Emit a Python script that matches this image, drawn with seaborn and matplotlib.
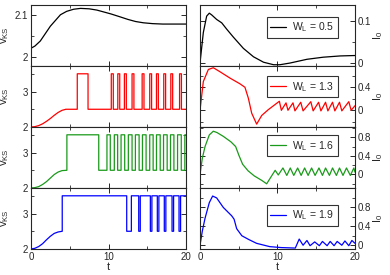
import numpy as np
import pandas as pd
import matplotlib
matplotlib.use("Agg")
import matplotlib.pyplot as plt
import seaborn as sns
from matplotlib.ticker import MultipleLocator, FixedLocator

# ── Data ──────────────────────────────────────────────────────────────────────
W_LABELS = ["0.5", "1.3", "1.6", "1.9"]
COLORS   = ["black", "#ff0000", "#1a9a1a", "#0000ff"]

# v_KS, W_L = 0.5 (smooth)
vks05_t = [0, 0.5, 1.2, 2.5, 3.8, 4.6, 5.5, 6.4, 7.5, 8.5, 9.5, 10.3, 11.5, 12.5, 13.5, 14.5, 15.7, 17, 18.5, 20]
vks05_v = [2.021, 2.026, 2.038, 2.073, 2.100, 2.108, 2.113, 2.115, 2.114, 2.111, 2.106, 2.102, 2.095, 2.089, 2.084, 2.081, 2.079, 2.078, 2.078, 2.078]

# smooth rise before the first switch (W_L = 1.3, 1.6, 1.9)
rise13_t = [0, 0.5, 1, 1.5, 2, 2.5, 3, 3.5, 4, 4.5, 5.97]
rise13_v = [2.0, 2.01, 2.04, 2.09, 2.16, 2.24, 2.33, 2.41, 2.47, 2.5, 2.5]
rise16_t = [0, 0.5, 1, 1.5, 2, 2.5, 3, 3.5, 4, 4.63]
rise16_v = [2.0, 2.01, 2.04, 2.1, 2.18, 2.28, 2.38, 2.45, 2.49, 2.5]
rise19_t = [0, 0.5, 1, 1.5, 2, 2.5, 3, 3.5, 4.03]
rise19_v = [2.0, 2.02, 2.07, 2.15, 2.26, 2.36, 2.44, 2.48, 2.5]

LOW, HIGH = 2.5, 3.5
# switching times (up, down, up, down, ...)
sw13 = [5.97, 7.36, 10.36, 10.62, 11.2, 11.45, 12.05, 12.3, 13.04, 13.28,
        14.34, 14.58, 15.32, 15.56, 16.19, 16.43, 17.13, 17.37, 18.04, 18.28,
        19.17, 19.41]
sw16 = [4.63, 8.74, 9.8, 10.23, 10.75, 11.18, 11.62, 12.09, 12.56, 13.04,
        13.47, 13.95, 14.38, 14.85, 15.32, 15.76, 16.19, 16.67, 17.1, 17.57,
        18.0, 18.44, 18.91, 19.39, 19.85]
sw19 = [4.03, 12.35, 12.95, 13.9, 14.1, 15.4, 15.6, 16.3, 16.5, 17.2,
        17.4, 18.2, 18.4, 19.1, 19.3]

# I_0 curves
i05_t = [0, 0.43, 0.86, 1.2, 1.5, 2.15, 2.8, 3.44, 4.3, 5.6, 6.9, 8.2, 9.5, 10.3, 11.6, 13.8, 15.9, 18.1, 20]
i05_v = [0, 0.073, 0.112, 0.119, 0.115, 0.104, 0.096, 0.081, 0.062, 0.035, 0.015, 0.002, -0.004, -0.004, 0.0, 0.009, 0.014, 0.017, 0.018]

i13_t = [0, 0.43, 1.08, 1.72, 2.58, 3.87, 5.16, 5.8, 6.24, 6.67, 7.31, 7.96, 8.8, 10.24,
         10.5, 11.1, 11.35, 12.0, 12.25, 13.0, 13.3, 14.3, 14.6, 15.3, 15.6, 16.2,
         16.5, 17.1, 17.4, 18.0, 18.3, 19.2, 19.5, 20]
i13_v = [0, 0.5, 0.71, 0.74, 0.67, 0.56, 0.46, 0.4, 0.21, -0.05, -0.24, -0.09, 0.01, 0.157,
         0.0, 0.13, 0.0, 0.13, -0.01, 0.14, -0.01, 0.15, -0.01, 0.14, -0.01, 0.14,
         -0.01, 0.14, -0.01, 0.14, -0.01, 0.15, 0.0, 0.08]

i16_t = [0, 0.3, 0.65, 1.2, 1.72, 2.2, 3.0, 4.0, 4.6, 5.0, 5.5, 6.2, 7.0, 8.0, 8.6, 9.7,
         10.1, 10.7, 11.2, 11.65, 12.1, 12.6, 13.05, 13.5, 13.95, 14.4, 14.85, 15.35,
         15.8, 16.2, 16.7, 17.1, 17.6, 18.0, 18.45, 18.9, 19.4, 19.85, 20]
i16_v = [0, 0.35, 0.6, 0.85, 0.93, 0.9, 0.82, 0.7, 0.6, 0.42, 0.22, 0.08, -0.03, -0.13, -0.2, 0.09,
         -0.01, 0.14, -0.02, 0.14, -0.02, 0.14, -0.02, 0.14, -0.02, 0.14, -0.02, 0.14,
         -0.02, 0.14, -0.02, 0.14, -0.02, 0.14, -0.02, 0.14, -0.02, 0.14, 0.05]

i19_t = [0, 0.3, 0.65, 1.2, 1.63, 2.15, 3.0, 4.1, 4.4, 4.73, 5.4, 6.3, 7.3, 9.0, 10.5, 12.3,
         12.8, 13.3, 13.8, 14.2, 14.8, 15.4, 15.8, 16.4, 16.8, 17.3, 17.7, 18.3, 18.7,
         19.2, 19.6, 20]
i19_v = [0, 0.3, 0.57, 0.9, 1.04, 1.0, 0.8, 0.62, 0.55, 0.35, 0.2, 0.12, 0.04, -0.03, -0.05, -0.06,
         0.13, 0.0, 0.1, -0.01, 0.07, -0.01, 0.08, -0.01, 0.08, -0.01, 0.08, 0.0, 0.09,
         -0.01, 0.1, 0.04]

# axis settings
LEFT_YLIM   = [(1.979, 2.123), (2.0, 3.72), (2.0, 3.72), (2.0, 3.72)]
LEFT_YTICKS = [[2, 2.1], [2, 3], [2, 3], [2, 3]]
LEFT_YTLBL  = [["2", "2.1"], ["2", "3"], ["2", "3"], ["2", "3"]]
RIGHT_YLIM   = [(-0.007, 0.1385), (-0.29, 0.77), (-0.29, 1.02), (-0.08, 1.21)]
RIGHT_YTICKS = [[0, 0.1], [0, 0.4], [0, 0.4, 0.8], [0, 0.4, 0.8]]
RIGHT_YTLBL  = [["0", "0.1"], ["0", "0.4"], ["0", "0.4", "0.8"], ["0", "0.4", "0.8"]]
RIGHT_MINOR  = [0.05, 0.2, 0.2, 0.2]
LEG_Y        = [0.63, 0.66, 0.69, 0.55]


def step_curve(rise_t, rise_v, switches):
    """Staircase between LOW and HIGH starting from the smooth rise."""
    t = list(rise_t)
    v = list(rise_v)
    level = LOW
    for s in switches:
        new = HIGH if level == LOW else LOW
        t += [s, s]
        v += [level, new]
        level = new
    t.append(20)
    v.append(level)
    return t, v


left_data = [
    (vks05_t, vks05_v),
    step_curve(rise13_t, rise13_v, sw13),
    step_curve(rise16_t, rise16_v, sw16),
    step_curve(rise19_t, rise19_v, sw19),
]
right_data = [(i05_t, i05_v), (i13_t, i13_v), (i16_t, i16_v), (i19_t, i19_v)]

# ── Style ─────────────────────────────────────────────────────────────────────
sns.set_style("ticks")
plt.rcParams["font.family"] = ["Liberation Sans", "DejaVu Sans"]
plt.rcParams["mathtext.fontset"] = "custom"
plt.rcParams["mathtext.rm"] = "Liberation Sans"
plt.rcParams["mathtext.it"] = "Liberation Sans"
plt.rcParams["mathtext.default"] = "regular"
plt.rcParams["axes.linewidth"] = 0.8
plt.rcParams["xtick.direction"] = "in"
plt.rcParams["ytick.direction"] = "in"
plt.rcParams["xtick.major.size"] = 3.5
plt.rcParams["ytick.major.size"] = 3.5
plt.rcParams["xtick.minor.size"] = 2
plt.rcParams["ytick.minor.size"] = 2
plt.rcParams["xtick.major.width"] = 0.7
plt.rcParams["ytick.major.width"] = 0.7

fig = plt.figure(figsize=(3.9, 2.75), dpi=100)
gs = fig.add_gridspec(4, 2, left=31 / 390, right=355 / 390, bottom=1 - 249 / 275,
                      top=1 - 5 / 275, hspace=0, wspace=14 / 155)

for i in range(4):
    # ── left: v_KS ──
    ax = fig.add_subplot(gs[i, 0])
    t, v = left_data[i]
    df = pd.DataFrame({"t": t, "v": v})
    sns.lineplot(data=df, x="t", y="v", ax=ax, color=COLORS[i], lw=0.9,
                 estimator=None, sort=False)
    ax.set_xlim(0, 20)
    ax.set_ylim(*LEFT_YLIM[i])
    ax.xaxis.set_major_locator(FixedLocator([0, 10, 20]))
    ax.xaxis.set_minor_locator(FixedLocator([5, 15]))
    ax.yaxis.set_major_locator(FixedLocator(LEFT_YTICKS[i]))
    ax.set_yticklabels(LEFT_YTLBL[i])
    ax.yaxis.set_minor_locator(MultipleLocator(0.05 if i == 0 else 0.5))
    ax.tick_params(which="both", top=True, right=True, labelsize=7, pad=2)
    ax.set_ylabel("v$_{KS}$", fontsize=8)
    ax.yaxis.set_label_coords(-0.13, 0.5)
    if i < 3:
        ax.set_xlabel("")
        ax.tick_params(labelbottom=False)
    else:
        ax.set_xticklabels(["0", "10", "20"])
        ax.set_xlabel("t", fontsize=8, labelpad=0)

    # ── right: I_0 ──
    ax = fig.add_subplot(gs[i, 1])
    t, v = right_data[i]
    df = pd.DataFrame({"t": t, "I": v})
    sns.lineplot(data=df, x="t", y="I", ax=ax, color=COLORS[i], lw=0.9,
                 estimator=None, sort=False, label="W$_L$ = " + W_LABELS[i])
    ax.set_xlim(0, 20)
    ax.set_ylim(*RIGHT_YLIM[i])
    ax.xaxis.set_major_locator(FixedLocator([0, 10, 20]))
    ax.xaxis.set_minor_locator(FixedLocator([5, 15]))
    ax.yaxis.set_major_locator(FixedLocator(RIGHT_YTICKS[i]))
    ax.set_yticklabels(RIGHT_YTLBL[i])
    ax.yaxis.set_minor_locator(MultipleLocator(RIGHT_MINOR[i]))
    ax.yaxis.tick_right()
    ax.tick_params(which="both", top=True, left=True, right=True,
                   labelleft=False, labelright=True, labelsize=7, pad=2)
    ax.yaxis.set_label_position("right")
    ax.set_ylabel("I$_0$", fontsize=8, rotation=90)
    ax.yaxis.set_label_coords(1.105, 0.5)
    if i < 3:
        ax.set_xlabel("")
        ax.tick_params(labelbottom=False)
    else:
        ax.set_xticklabels(["0", "10", "20"])
        ax.set_xlabel("t", fontsize=8, labelpad=0)
    leg = ax.legend(loc="center right", bbox_to_anchor=(0.89, LEG_Y[i]),
                    fontsize=7.5, frameon=True, fancybox=False, handlelength=1.5,
                    handletextpad=0.6, borderpad=0.35, borderaxespad=0)
    leg.get_frame().set_edgecolor("black")
    leg.get_frame().set_linewidth(0.8)

fig.savefig("out.png", dpi=100)
